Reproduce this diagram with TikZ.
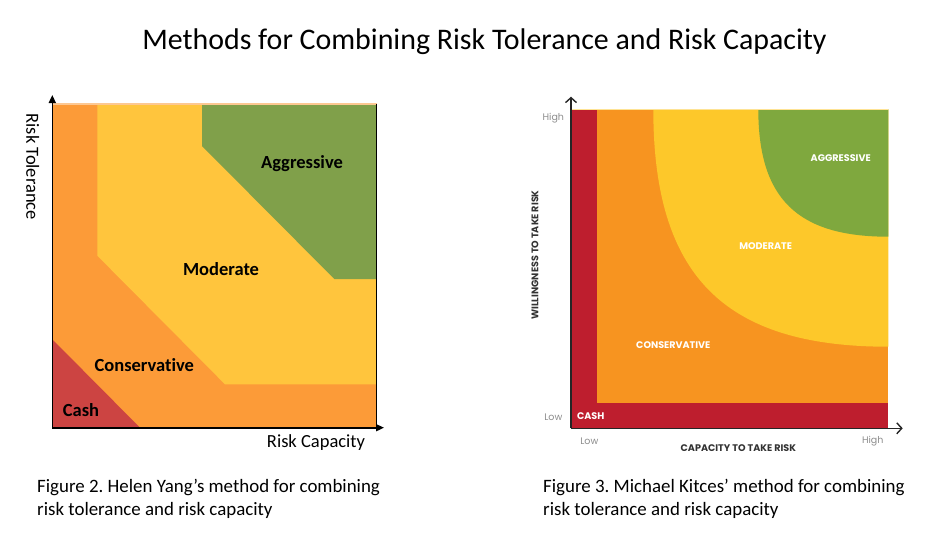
\documentclass[tikz,border=0pt]{standalone}
\usepackage{fontspec}
\setmainfont{Carlito}[Ligatures=NoCommon]
\newfontfamily\kitcesfont{Poppins}
\usepackage{tikz}
\usetikzlibrary{
    positioning,
    arrows.meta
}
\frenchspacing

\definecolor{yangorange}{RGB}{252,155,56}
\definecolor{yangyellow}{RGB}{255,197,61}
\definecolor{yanggreen}{RGB}{128,160,74}
\definecolor{yangred}{RGB}{204,68,66}
\definecolor{kitred}{RGB}{190,30,46}
\definecolor{kitorange}{RGB}{247,148,32}
\definecolor{kityellow}{RGB}{253,200,42}
\definecolor{kitgreen}{RGB}{127,168,62}

\begin{document}
\begin{tikzpicture}[
      x=1pt, y=-1pt,
      zone/.style={font=\fontsize{18.5}{22}\selectfont\bfseries, inner sep=0pt},
      axlabel/.style={font=\fontsize{18.5}{22}\selectfont, inner sep=0pt},
      caption/.style={font=\fontsize{18.9}{23}\selectfont, align=left, anchor=west, inner sep=0pt},
      kzone/.style={font=\kitcesfont\bfseries\fontsize{9.6}{10}\selectfont, text=white, inner sep=0pt},
      ktick/.style={font=\kitcesfont\fontsize{9.5}{10}\selectfont, text=black!45, inner sep=0pt},
      kaxlabel/.style={font=\kitcesfont\bfseries\fontsize{9.6}{10}\selectfont, text=black!80, inner sep=0pt},
      yangaxis/.style={line width=1.6pt, -{Triangle[length=8pt, width=7pt]}},
      kitaxis/.style={line width=1.4pt, draw=black!85, -{Straight Barb[length=5pt, width=11pt, line width=1.4pt]}}
    ]
    \useasboundingbox (0,0) rectangle (936,544);

    \node[font=\fontsize{29.9}{33}\selectfont] (title) at (484.5,42)
      {Methods for Combining Risk Tolerance and Risk Capacity};

    % Yang
    \fill[yangorange] (52.3,104) rectangle (376.7,427.7);
    \fill[yangyellow] (97.3,104) -- (97.3,255.7) -- (225,384.3) -- (376.7,384.3) -- (376.7,104) -- cycle;
    \fill[yanggreen] (202,104) -- (202,146) -- (334.3,279) -- (376.7,279) -- (376.7,104) -- cycle;
    \fill[yangred] (52.3,339.3) -- (140,427.7) -- (52.3,427.7) -- cycle;
    \draw[yangorange!55, line width=1.2pt] (52.3,104) -- (376.7,104);
    \draw[line width=1pt] (376.7,104) -- (376.7,427.7);

    \coordinate (yorigin) at (52.3,427.7);
    \coordinate (ytop) at (52.3,95);
    \coordinate (yend) at (384,427.7);
    \draw[yangaxis] (yorigin) -- (ytop);
    \draw[yangaxis] (yorigin) -- (yend);

    \node[zone] (yaggr) at (302,163.3) {Aggressive};
    \node[zone] (ymod) at (221,269) {Moderate};
    \node[zone] (ycons) at (144.3,365) {Conservative};
    \node[zone] (ycash) at (81,410) {Cash};
    \node[axlabel, rotate=-90] (ytol) at (32.7,166.7) {Risk Tolerance};
    \node[axlabel] (ycap) at (316,442.3) {Risk Capacity};

    \node[caption] (ycaption) at (37,498.5)
      {Figure 2. Helen Yang’s method for combining\\risk tolerance and risk capacity};

    % Kitces
    \fill[kitred] (571,109.3) rectangle (888.3,428.3);
    \fill[kitorange] (597.3,109.3) rectangle (888.3,402.7);
    \fill[kityellow] (653.3,109.3) .. controls (653.3,275.5) and (723.8,346.7) .. (888.3,346.7)
      -- (888.3,109.3) -- cycle;
    \fill[kitgreen] (758.3,109.3) .. controls (758.3,198.5) and (797.3,236.7) .. (888.3,236.7)
      -- (888.3,109.3) -- cycle;
    \draw[kityellow!50, line width=1pt] (571,109.3) -- (888.3,109.3);

    \coordinate (korigin) at (571,428.3);
    \coordinate (ktop) at (571,96.7);
    \coordinate (kend) at (902.7,428.3);
    \draw[kitaxis] (korigin) -- (ktop);
    \draw[kitaxis] (korigin) -- (kend);

    \node[kzone] (kaggr) at (840.7,158.3) {AGGRESSIVE};
    \node[kzone] (kmod) at (765.7,245.7) {MODERATE};
    \node[kzone] (kcons) at (673.3,345) {CONSERVATIVE};
    \node[kzone] (kcash) at (590.7,415.7) {CASH};
    \node[ktick] (khighy) at (553.3,117.7) {High};
    \node[ktick] (klowy) at (553.3,417.7) {Low};
    \node[ktick] (klowx) at (589.3,441) {Low};
    \node[ktick] (khighx) at (872.7,441) {High};
    \node[kaxlabel] (kcap) at (738.3,447.7) {CAPACITY TO TAKE RISK};
    \node[kaxlabel, rotate=90] (kwill) at (535,255) {WILLINGNESS TO TAKE RISK};

    \node[caption] (kcaption) at (543,498.5)
      {Figure 3. Michael Kitces’ method for combining\\risk tolerance and risk capacity};
  \end{tikzpicture}
\end{document}
